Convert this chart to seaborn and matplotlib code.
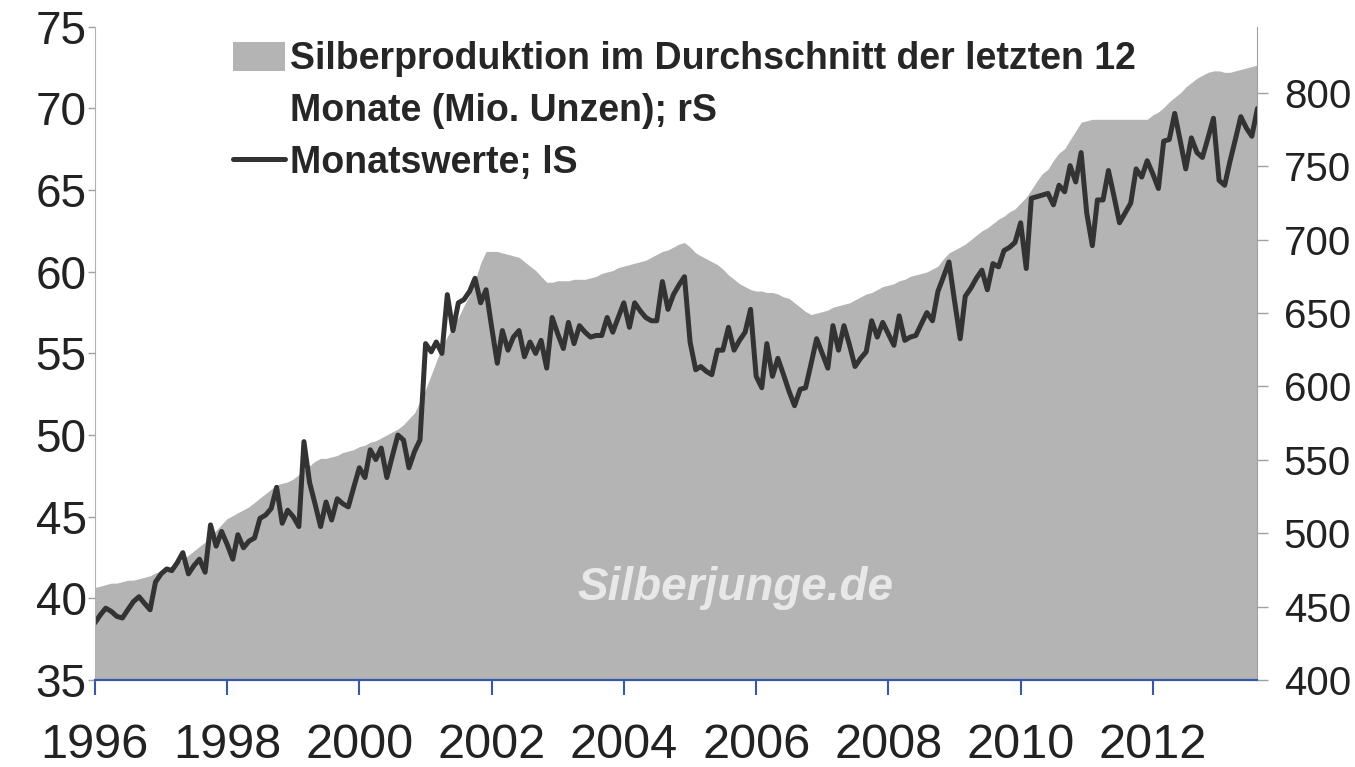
import matplotlib
matplotlib.use('Agg')
import matplotlib.pyplot as plt
from matplotlib.patches import Patch
from matplotlib.lines import Line2D
import pandas as pd
import seaborn as sns

sns.set_style('white')
plt.rcParams['font.family'] = ['Liberation Sans', 'DejaVu Sans']

# monthly values Jan 1996 .. Aug 2013
months = pd.date_range('1996-01-01', periods=212, freq='MS')

# Monatswerte, Mio. Unzen (left scale)
monatswerte = [
    38.5, 39.0, 39.4, 39.2, 38.9, 38.8, 39.3, 39.8, 40.1, 39.7, 39.3, 41.0,  # 1996
    41.5, 41.8, 41.7, 42.2, 42.8, 41.5, 42.0, 42.4, 41.6, 44.5, 43.2, 44.1,  # 1997
    43.3, 42.4, 43.9, 43.1, 43.5, 43.7, 44.9, 45.1, 45.5, 46.8, 44.6, 45.4,  # 1998
    45.0, 44.4, 49.6, 47.1, 45.8, 44.4, 45.9, 44.8, 46.1, 45.8, 45.6, 46.8,  # 1999
    48.0, 47.4, 49.1, 48.5, 49.2, 47.4, 48.7, 50.0, 49.7, 48.0, 49.0, 49.7,  # 2000
    55.6, 55.1, 55.7, 55.0, 58.6, 56.4, 58.1, 58.3, 58.8, 59.6, 58.1, 58.9,  # 2001
    56.6, 54.4, 56.4, 55.2, 56.0, 56.4, 54.8, 55.7, 55.0, 55.8, 54.1, 57.2,  # 2002
    56.2, 55.3, 56.9, 55.6, 56.7, 56.3, 56.0, 56.1, 56.1, 57.2, 56.3, 57.2,  # 2003
    58.1, 56.6, 58.1, 57.6, 57.2, 57.0, 57.0, 59.4, 57.7, 58.6, 59.2, 59.7,  # 2004
    55.7, 54.0, 54.2, 53.9, 53.7, 55.2, 55.2, 56.6, 55.2, 55.8, 56.3, 57.7,  # 2005
    53.6, 52.9, 55.6, 53.6, 54.7, 53.7, 52.7, 51.8, 52.8, 52.9, 54.4, 55.9,  # 2006
    55.0, 54.1, 56.7, 55.2, 56.7, 55.5, 54.2, 54.7, 55.1, 57.0, 56.0, 56.9,  # 2007
    56.2, 55.5, 57.3, 55.8, 56.0, 56.1, 56.8, 57.5, 57.0, 58.8, 59.7, 60.6,  # 2008
    58.2, 55.9, 58.5, 59.0, 59.6, 60.1, 58.9, 60.5, 60.3, 61.3, 61.5, 61.8,  # 2009
    63.0, 60.2, 64.5, 64.6, 64.7, 64.8, 64.1, 65.3, 64.9, 66.5, 65.5, 67.3,  # 2010
    63.6, 61.6, 64.4, 64.4, 66.2, 64.6, 63.0, 63.6, 64.2, 66.3, 65.8, 66.8,  # 2011
    66.0, 65.1, 68.0, 68.1, 69.7, 68.0, 66.3, 68.2, 67.3, 67.0, 68.2, 69.4,  # 2012
    65.6, 65.3, 66.7, 68.1, 69.5, 68.8, 68.3, 70.0,                          # 2013
]

# 12-month average production, Mio. Unzen (right scale)
produktion_12m = [
    463, 464, 465, 466, 466, 467, 468, 468, 469, 470, 471, 473,  # 1996
    474, 476, 478, 480, 482, 485, 488, 491, 494, 498, 502, 506,  # 1997
    510, 512, 514, 516, 518, 521, 524, 527, 530, 533, 534, 535,  # 1998
    537, 540, 543, 546, 549, 551, 551, 552, 553, 555, 556, 557,  # 1999
    559, 560, 562, 563, 565, 567, 569, 571, 574, 578, 582, 590,  # 2000
    598, 608, 617, 627, 634, 641, 647, 655, 662, 672, 684, 692,  # 2001
    692, 692, 691, 690, 689, 688, 685, 682, 679, 675, 671, 671,  # 2002
    672, 672, 672, 673, 673, 673, 674, 675, 677, 678, 679, 681,  # 2003
    682, 683, 684, 685, 686, 688, 690, 692, 693, 695, 697, 698,  # 2004
    695, 691, 689, 687, 685, 683, 680, 676, 673, 670, 668, 666,  # 2005
    665, 665, 664, 664, 663, 661, 660, 657, 654, 651, 649, 650,  # 2006
    651, 652, 654, 655, 656, 657, 659, 661, 663, 664, 666, 668,  # 2007
    669, 670, 672, 673, 675, 676, 677, 678, 680, 682, 687, 691,  # 2008
    693, 695, 697, 700, 703, 706, 708, 711, 714, 716, 719, 721,  # 2009
    725, 729, 734, 740, 745, 748, 754, 759, 762, 768, 774, 780,  # 2010
    781, 782, 782, 782, 782, 782, 782, 782, 782, 782, 782, 782,  # 2011
    785, 787, 790, 794, 797, 800, 804, 807, 810, 812, 814, 815,  # 2012
    815, 814, 814, 815, 816, 817, 818, 819,                      # 2013
]

left_ticks = [35, 40, 45, 50, 55, 60, 65, 70, 75]
right_ticks = [400, 450, 500, 550, 600, 650, 700, 750, 800]
year_ticks = [1996, 1998, 2000, 2002, 2004, 2006, 2008, 2010, 2012]

label_area = 'Silberproduktion im Durchschnitt der letzten 12'
label_area2 = 'Monate (Mio. Unzen); rS'
label_line = 'Monatswerte; lS'

area_col = '#b4b4b4'
line_col = '#333333'

df = pd.DataFrame({'datum': months, 'monatswerte': monatswerte,
                   'produktion': produktion_12m})

fig = plt.figure(figsize=(13.55, 7.67), dpi=100)
ax = fig.add_axes([0.070, 0.1134, 0.858, 0.8516])
ax2 = ax.twinx()

# area on right scale, line on left scale drawn on top
ax2.fill_between(df['datum'], 400, df['produktion'], color=area_col, lw=0)
sns.lineplot(data=df, x='datum', y='monatswerte', ax=ax, color=line_col, lw=3.6)
ax.set_zorder(ax2.get_zorder() + 1)
ax.patch.set_visible(False)

ax.set_xlim(months[0], months[-1])
ax.set_ylim(35, 75)
ax2.set_ylim(400, 845)
ax.set_yticks(left_ticks)
ax2.set_yticks(right_ticks)
ax.set_xticks(pd.to_datetime([f'{y}-01-01' for y in year_ticks]))
ax.set_xticklabels([str(y) for y in year_ticks])
ax.set_xlabel('')
ax.set_ylabel('')

ax.tick_params(axis='y', left=True, length=5, width=1, color='#a0a0a0',
               labelsize=33, pad=1, labelcolor='#222222')
ax.tick_params(axis='x', bottom=True, length=11, width=1.5, color='#3558a8',
               labelsize=35, pad=20, labelcolor='#222222')
ax2.tick_params(axis='y', right=True, length=8, width=1, color='#a0a0a0',
                labelsize=29, pad=11, labelcolor='#222222')

for s in ['top', 'right']:
    ax.spines[s].set_visible(False)
for s in ['top', 'left', 'bottom']:
    ax2.spines[s].set_visible(False)
ax.spines['left'].set_color('#b0b0b0')
ax.spines['bottom'].set_color('#3558a8')
ax.spines['bottom'].set_linewidth(1.6)
ax2.spines['right'].set_color('#a0a0a0')

ax.text(0.551, 0.141, 'Silberjunge.de', transform=ax.transAxes, ha='center',
        va='center', fontsize=33, fontweight='bold', fontstyle='italic',
        color='#e8e8e8')

handles = [Patch(facecolor=area_col, edgecolor='none'),
           Line2D([], [], color='none'),
           Line2D([], [], color=line_col, lw=3.6)]
leg = ax.legend(handles, [label_area, label_area2, label_line], loc='upper left',
                bbox_to_anchor=(0.1187, 0.978), frameon=False, borderpad=0,
                borderaxespad=0, prop={'weight': 'bold', 'size': 27},
                handlelength=1.39, handleheight=0.8, handletextpad=0.13,
                labelspacing=0.42)

fig.savefig('out.png', dpi=100)
